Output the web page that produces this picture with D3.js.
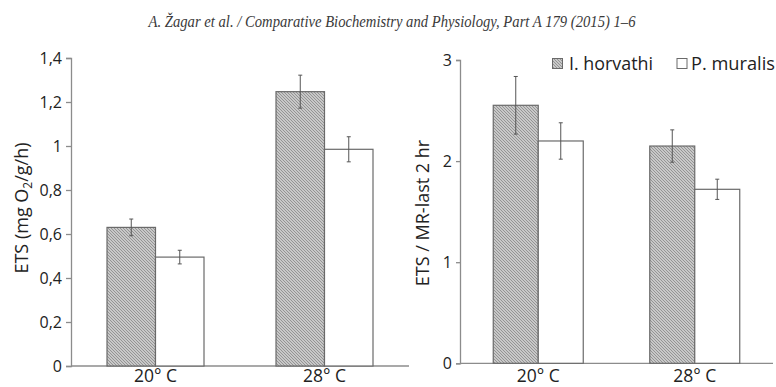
<!DOCTYPE html>
<html>
<head>
<meta charset="utf-8">
<script src="https://cdn.jsdelivr.net/npm/d3@7"></script>
<style>
  html, body { margin: 0; padding: 0; background: #fff; }
  svg { display: block; }
  text { font-family: "Open Sans", "Noto Sans", sans-serif; fill: #333; }
</style>
</head>
<body>
<svg id="chart" width="776" height="387"></svg>
<script>
// Temperature groups and species
const categories = ["20° C", "28° C"];
const species = ["I. horvathi", "P. muralis"];

// Panel A: ETS activity (mg O2/g/h), means and error half-widths
const etsMeans = {
  "I. horvathi": [0.63, 1.247],
  "P. muralis": [0.495, 0.985]
};
const etsErrors = {
  "I. horvathi": [0.038, 0.075],
  "P. muralis": [0.031, 0.057]
};
const etsTicks = [0, 0.2, 0.4, 0.6, 0.8, 1, 1.2, 1.4];

// Panel B: ETS / MR-last 2 hr ratio
const ratioMeans = {
  "I. horvathi": [2.552, 2.149],
  "P. muralis": [2.199, 1.721]
};
const ratioErrors = {
  "I. horvathi": [0.285, 0.16],
  "P. muralis": [0.18, 0.1]
};
const ratioTicks = [0, 1, 2, 3];

const svg = d3.select("#chart");

// hatched fill for I. horvathi
const defs = svg.append("defs");
const pat = defs.append("pattern")
  .attr("id", "hatch")
  .attr("patternUnits", "userSpaceOnUse")
  .attr("width", 3).attr("height", 3);
pat.append("rect").attr("width", 3).attr("height", 3).attr("fill", "#c8c8c8");
pat.append("path")
  .attr("d", "M-1,-1 L4,4 M-1,2 L1,4 M2,-1 L4,1")
  .attr("stroke", "#8e8e8e").attr("stroke-width", 0.9);

const fills = { "I. horvathi": "url(#hatch)", "P. muralis": "#ffffff" };

// journal running header
svg.append("text")
  .attr("x", 392).attr("y", 27)
  .attr("text-anchor", "middle")
  .attr("textLength", 487).attr("lengthAdjust", "spacingAndGlyphs")
  .style("font-family", "'Liberation Serif', 'DejaVu Serif', serif")
  .style("font-style", "italic")
  .style("font-size", "16.5px")
  .style("fill", "#3a3a3a")
  .text("A. Žagar et al. / Comparative Biochemistry and Physiology, Part A 179 (2015) 1–6");

function panel(opts) {
  const g = svg.append("g");
  const x = d3.scalePoint().domain(categories).range(opts.xRange).padding(0.5);
  const s = d3.scaleBand().domain(species).range([-opts.barW, opts.barW]).padding(0);
  const y = d3.scaleLinear().domain(opts.domain).range(opts.yRange);

  // y axis
  const yAxis = d3.axisLeft(y)
    .tickValues(opts.ticks)
    .tickSize(opts.tickSize)
    .tickFormat(d => String(d).replace(".", ","));
  const ya = g.append("g")
    .attr("transform", `translate(${opts.xRange[0]},0)`)
    .call(yAxis);
  ya.select(".domain").attr("stroke", "#8c8c8c").attr("stroke-width", 1.3);
  ya.selectAll(".tick line").attr("stroke", "#8c8c8c").attr("stroke-width", 1.3);
  ya.selectAll(".tick text")
    .attr("x", -(opts.tickSize + 4))
    .style("font-size", "16px")
    .style("fill", "#222")
    .style("font-family", "'Open Sans', sans-serif");

  // baseline
  g.append("line")
    .attr("x1", opts.xRange[0])
    .attr("x2", opts.xRange[1])
    .attr("y1", y(0)).attr("y2", y(0))
    .attr("stroke", "#8c8c8c").attr("stroke-width", 1.3);

  // bars
  species.forEach(sp => {
    categories.forEach((c, i) => {
      const v = opts.means[sp][i];
      const e = opts.errors[sp][i];
      const bx = x(c) + s(sp);
      g.append("rect")
        .attr("x", bx).attr("y", y(v))
        .attr("width", s.bandwidth()).attr("height", y(0) - y(v))
        .attr("fill", fills[sp])
        .attr("stroke", "#6a6a6a").attr("stroke-width", 1.2);
      const cx = bx + s.bandwidth() / 2;
      const eg = g.append("g").attr("stroke", "#555").attr("stroke-width", 1);
      eg.append("line").attr("x1", cx).attr("x2", cx).attr("y1", y(v + e)).attr("y2", y(v - e));
      eg.append("line").attr("x1", cx - 2).attr("x2", cx + 2).attr("y1", y(v + e)).attr("y2", y(v + e));
      eg.append("line").attr("x1", cx - 2).attr("x2", cx + 2).attr("y1", y(v - e)).attr("y2", y(v - e));
    });
  });

  // category labels
  g.selectAll(".cat").data(categories).enter().append("text")
    .attr("x", d => x(d)).attr("y", opts.catY)
    .attr("text-anchor", "middle")
    .style("font-size", "17.5px")
    .style("fill", "#222")
    .text(d => d);

  // y title
  const t = g.append("text")
    .attr("transform", `translate(${opts.titleX},${opts.titleY}) rotate(-90)`)
    .attr("text-anchor", "middle")
    .style("font-size", "18px")
    .style("fill", "#222");
  opts.title(t);
}

panel({
  xRange: [71, 409], barW: 48.5, domain: [0, 1.4], yRange: [366, 58],
  ticks: etsTicks, tickSize: 5, means: etsMeans, errors: etsErrors, catY: 382,
  titleX: 28, titleY: 208,
  title: t => {
    t.append("tspan").text("ETS (mg O");
    t.append("tspan").attr("dy", 4).style("font-size", "12px").text("2");
    t.append("tspan").attr("dy", -4).text("/g/h)");
  }
});

panel({
  xRange: [460, 773], barW: 45, domain: [0, 3], yRange: [363.3, 60],
  ticks: ratioTicks, tickSize: 4, means: ratioMeans, errors: ratioErrors, catY: 382,
  titleX: 429, titleY: 213,
  title: t => t.text("ETS / MR-last 2 hr")
});

// legend
const legend = svg.append("g");
const legendItems = [
  { name: "I. horvathi", sx: 552.5, tx: 569 },
  { name: "P. muralis", sx: 677, tx: 691 }
];
legendItems.forEach(d => {
  legend.append("rect")
    .attr("x", d.sx).attr("y", 58.5).attr("width", 10).attr("height", 10)
    .attr("fill", fills[d.name]).attr("stroke", "#6a6a6a").attr("stroke-width", 1);
  legend.append("text")
    .attr("x", d.tx).attr("y", 69.5)
    .attr("textLength", 84).attr("lengthAdjust", "spacingAndGlyphs")
    .style("font-size", "18px")
    .style("fill", "#222")
    .text(d.name);
});
</script>
</body>
</html>
